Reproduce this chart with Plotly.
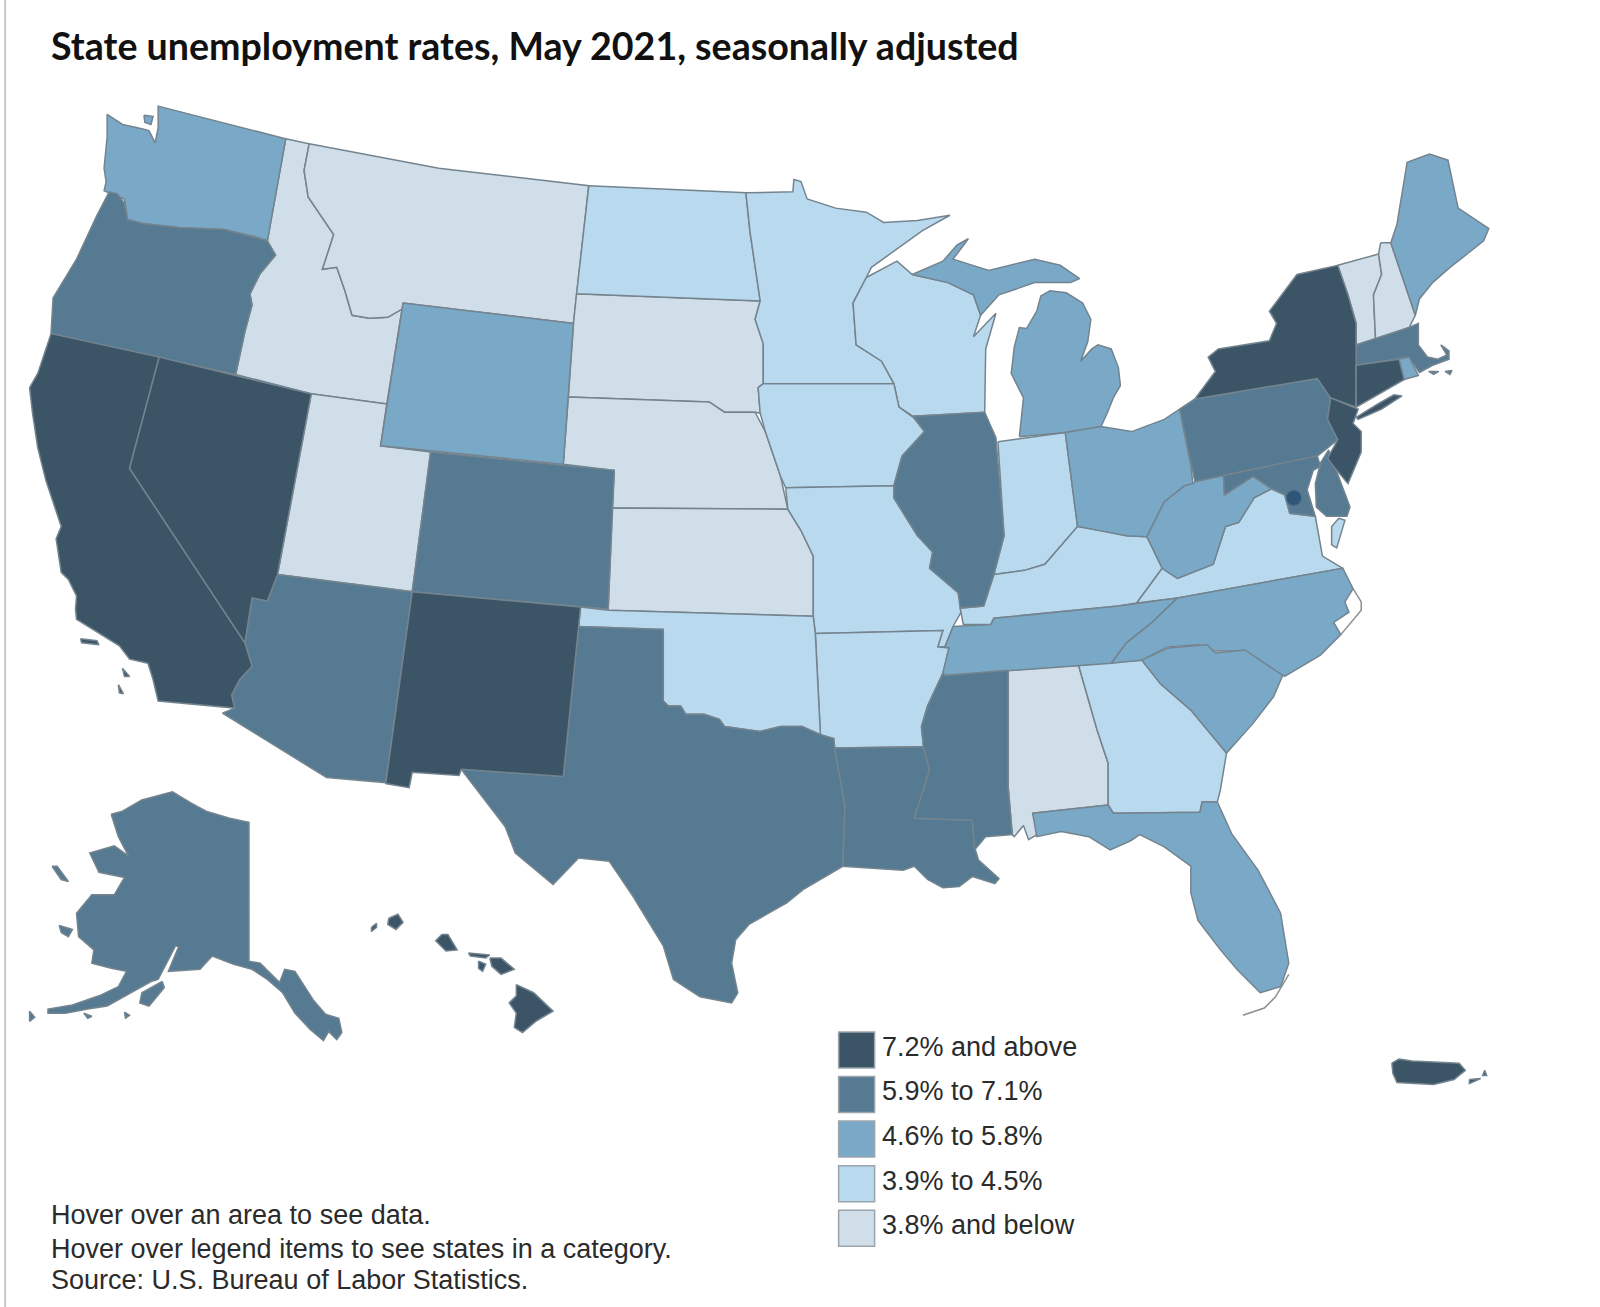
import plotly.graph_objects as go

# state outlines, in picture units (1568 wide, 1281 tall)
WA = [[(105,112),(120,122),(138,126),(146,128),(152,140),(155,125),(155,104),(280,136),(262,236),(250,232),(220,225),(175,223),(140,219),(125,215),(122,195),(102,187),(104,178),(102,165),(105,134)],
      [(141,113),(150,114),(148,122),(142,120)]]
OR = [[(107,188),(115,190),(122,199),(125,215),(140,219),(175,223),(220,225),(262,236),(270,250),(255,268),(245,288),(247,299),(240,325),(231,367),(50,327),(52,292),(75,254),(95,211)]]
CA = [[(50,327),(156,350),(127,459),(240,630),(247,653),(235,666),(227,681),(230,694),(155,687),(150,666),(145,650),(127,646),(117,633),(75,607),(74,597),(75,584),(67,568),(60,561),(55,528),(60,516),(45,471),(37,439),(32,406),(29,380),(37,366)],
      [(79,626),(95,628),(97,632),(80,630)],[(120,655),(127,663),(122,663)],[(116,671),(121,680),(117,679)]]
NV = [[(156,350),(305,386),(272,563),(262,589),(247,586),(240,630),(127,459)]]
ID = [[(280,136),(303,141),(298,167),(302,193),(327,230),(316,264),(330,262),(338,285),(345,309),(362,312),(380,311),(394,303),(379,396),(305,386),(231,367),(240,325),(247,299),(245,288),(255,268),(270,250),(262,236)]]
MT = [[(303,141),(430,165),(577,182),(565,288),(562,317),(395,297),(394,303),(380,311),(362,312),(345,309),(338,285),(330,262),(316,264),(327,230),(302,193),(298,167)]]
WY = [[(395,297),(562,317),(552,455),(373,437)]]
UT = [[(379,396),(373,437),(422,443),(404,580),(272,563),(305,386)]]
CO = [[(422,443),(602,461),(596,597),(404,580)]]
AZ = [[(272,563),(404,580),(378,767),(320,762),(218,699),(230,694),(227,681),(235,666),(247,653),(240,630),(247,586),(262,589)]]
NM = [[(404,580),(569,595),(552,761),(452,754),(450,760),(404,757),(401,772),(378,768)]]
TX = [[(567,614),(650,617),(650,687),(655,692),(667,692),(672,700),(690,700),(705,705),(710,712),(730,715),(745,717),(765,712),(786,712),(804,720),(817,724),(818,733),(828,790),(826,849),(787,872),(771,885),(734,906),(721,921),(717,944),(723,973),(717,983),(686,977),(660,960),(650,927),(620,878),(597,844),(567,841),(542,867),(505,836),(495,810),(452,754),(552,761)]]
OK = [[(569,595),(596,598),(797,604),(799,621),(804,720),(786,712),(765,712),(745,717),(730,715),(710,712),(705,705),(690,700),(672,700),(667,692),(655,692),(650,687),(650,617),(567,614)]]
KS = [[(600,498),(772,499),(785,520),(797,545),(797,604),(596,598)]]
NE = [[(557,389),(695,394),(710,404),(740,404),(750,423),(765,467),(772,499),(600,498),(602,461),(552,455)]]
SD = [[(565,288),(745,295),(740,313),(748,337),(748,376),(743,380),(745,405),(740,404),(710,404),(695,394),(557,389),(562,317)]]
ND = [[(577,182),(731,189),(735,227),(745,295),(565,288)]]
MN = [[(731,189),(777,188),(778,176),(785,178),(791,195),(819,204),(849,208),(866,218),(899,216),(931,211),(904,226),(854,262),(849,272),(836,297),(839,338),(864,354),(876,376),(748,376),(748,337),(740,313),(745,295),(735,227)]]
IA = [[(748,376),(876,376),(881,399),(895,409),(906,423),(884,447),(876,476),(770,478),(765,467),(750,423),(745,405),(743,380)]]
MO = [[(770,478),(876,476),(876,488),(899,525),(914,541),(911,557),(939,581),(943,598),(934,614),(926,634),(919,634),(924,618),(799,621),(797,604),(797,545),(785,520),(772,499)]]
AR = [[(799,621),(924,618),(919,634),(930,635),(924,660),(909,692),(903,712),(905,732),(818,733),(817,724),(804,720)]]
LA = [[(818,733),(905,732),(911,755),(896,802),(953,804),(955,830),(959,843),(979,861),(975,866),(953,859),(940,869),(924,870),(909,862),(896,849),(885,853),(852,851),(826,849),(828,790)]]
MS = [[(924,660),(926,662),(988,657),(988,771),(992,818),(966,820),(955,833),(953,804),(896,802),(911,755),(905,732),(903,712),(909,692)]]
AL = [[(988,657),(1057,652),(1075,715),(1086,748),(1086,789),(1012,797),(1018,817),(1008,823),(1003,809),(994,820),(992,818),(988,771)]]
GA = [[(1057,652),(1119,647),(1137,670),(1167,696),(1202,738),(1196,774),(1193,786),(1178,786),(1176,796),(1091,797),(1086,789),(1086,748),(1075,715)]]
FL = [[(1012,797),(1086,789),(1091,797),(1176,796),(1178,786),(1193,786),(1207,817),(1233,853),(1255,895),(1263,944),(1255,967),(1235,973),(1213,951),(1196,931),(1174,902),(1167,875),(1167,849),(1141,830),(1117,818),(1108,824),(1088,833),(1067,820),(1040,815),(1016,820)]]
SC = [[(1119,647),(1145,635),(1183,632),(1191,640),(1220,637),(1257,662),(1248,683),(1228,709),(1202,738),(1167,696),(1137,670)]]
NC = [[(1154,586),(1316,557),(1326,577),(1318,590),(1322,600),(1307,610),(1314,622),(1294,642),(1259,663),(1219,638),(1189,638),(1174,632),(1144,634),(1119,647),(1089,650),(1104,630),(1129,610)]]
TN = [[(934,614),(971,612),(974,606),(1096,594),(1154,586),(1129,610),(1104,630),(1089,650),(926,662),(924,660),(930,635),(926,634)]]
KY = [[(974,563),(1004,559),(1024,553),(1056,516),(1079,520),(1104,525),(1124,526),(1139,557),(1114,591),(1096,594),(974,606),(971,612),(944,612),(941,596),(964,594)]]
IL = [[(895,408),(965,404),(976,429),(984,525),(974,563),(964,594),(941,596),(939,581),(911,557),(914,541),(899,525),(876,488),(876,476),(884,447),(906,423)]]
IN = [[(978,433),(1044,424),(1056,516),(1024,553),(1004,559),(974,563),(984,525)]]
OH = [[(1044,424),(1079,418),(1109,423),(1141,411),(1156,401),(1167,456),(1169,474),(1161,476),(1141,492),(1124,526),(1104,525),(1079,520),(1056,516)]]
MI = [[(999,428),(1044,424),(1079,418),(1085,405),(1091,390),(1098,378),(1096,360),(1089,342),(1076,338),(1070,342),(1059,354),(1066,335),(1069,313),(1061,297),(1045,287),(1029,285),(1020,290),(1016,305),(1006,322),(999,321),(994,340),(991,366),(1003,390)],
      [(894,269),(924,256),(938,240),(949,234),(934,254),(969,265),(1014,254),(1039,260),(1058,273),(1049,277),(1014,277),(979,289),(961,309),(954,289),(929,277)]]
WI = [[(849,272),(879,256),(894,269),(929,277),(954,289),(961,309),(954,330),(976,307),(966,342),(965,404),(895,408),(881,399),(876,376),(864,354),(839,338),(836,297)]]
WV = [[(1169,474),(1171,472),(1199,466),(1200,485),(1228,467),(1246,479),(1229,488),(1214,512),(1201,516),(1189,553),(1154,567),(1139,557),(1124,526),(1141,492),(1161,476)]]
VA = [[(1114,591),(1139,557),(1154,567),(1189,553),(1201,516),(1214,512),(1229,488),(1246,479),(1259,485),(1264,503),(1289,506),(1296,545),(1316,557),(1154,586)],
      [(1312,508),(1318,510),(1310,537),(1305,534),(1305,516)]]
PA = [[(1156,401),(1171,391),(1291,371),(1304,390),(1301,411),(1311,431),(1291,447),(1171,472)]]
NY = [[(1171,391),(1191,364),(1184,350),(1194,342),(1244,334),(1251,317),(1244,305),(1271,269),(1311,260),(1321,289),(1329,317),(1329,382),(1329,399),(1304,390),(1291,371)],
      [(1329,409),(1350,396),(1366,387),(1374,388),(1354,401),(1331,411)]]
NJ = [[(1304,390),(1331,401),(1326,415),(1334,423),(1334,443),(1321,474),(1306,456),(1301,449),(1311,431),(1301,411)]]
CT = [[(1329,358),(1371,352),(1376,372),(1336,395),(1329,399)]]
RI = [[(1371,352),(1381,350),(1390,368),(1376,372)]]
MA = [[(1329,338),(1381,321),(1390,317),(1390,338),(1399,350),(1409,352),(1418,348),(1412,338),(1420,344),(1420,352),(1404,358),(1391,365),(1381,350),(1329,358)],
      [(1400,364),(1410,364),(1405,367)],[(1416,364),(1423,363),(1421,367)]]
VT = [[(1311,260),(1351,249),(1354,269),(1346,289),(1348,332),(1329,338),(1329,317),(1321,289)]]
NH = [[(1353,238),(1363,238),(1387,309),(1381,321),(1348,332),(1346,289),(1354,269),(1351,249)]]
ME = [[(1363,238),(1369,220),(1379,159),(1401,151),(1419,157),(1429,204),(1459,224),(1454,236),(1439,248),(1429,256),(1421,262),(1404,277),(1391,293),(1387,309)]]
MD = [[(1199,466),(1291,447),(1294,457),(1287,461),(1281,480),(1289,506),(1264,503),(1259,485),(1246,479),(1228,467),(1200,485)],
      [(1294,454),(1302,441),(1323,497),(1320,506),(1300,506),(1290,497),(1289,474)]]
HI = [[(506,965),(523,973),(542,991),(525,1001),(512,1012),(504,1007),(506,993),(499,983),(506,976)],
      [(480,939),(491,939),(504,950),(491,955),(482,947)],[(459,934),(480,936),(476,939),(461,937)],
      [(469,942),(476,945),(473,952),(469,949)],[(433,916),(439,916),(448,931),(437,932),(427,922)],
      [(381,900),(390,896),(395,904),(388,911),(380,906)],[(364,909),(369,905),(369,909),(364,913)]]
AK = [[(109,798),(120,795),(139,784),(169,776),(187,787),(202,795),(225,802),(244,806),(244,942),(255,944),(274,963),(279,950),(289,952),(307,980),(319,994),(332,998),(335,1012),(330,1019),(322,1011),(317,1020),(304,1009),(289,993),(277,973),(262,960),(247,950),(229,945),(208,937),(196,950),(165,952),(175,928),(172,927),(155,960),(148,962),(124,975),(105,986),(86,989),(64,993),(47,993),(47,989),(71,985),(97,976),(116,967),(124,952),(109,949),(90,944),(92,931),(77,918),(75,895),(90,877),(112,877),(122,860),(97,855),(88,836),(112,829),(126,839),(116,820)],
      [(159,962),(161,968),(146,986),(137,983),(139,973)],[(51,849),(56,849),(67,864),(60,862)],
      [(58,907),(71,911),(67,918),(60,914)],[(82,993),(90,996),(86,998)],[(122,992),(127,995),(123,998)],[(29,991),(34,997),(29,1001)]]
PR = [[(1364,1042),(1371,1038),(1384,1040),(1430,1042),(1436,1049),(1425,1058),(1405,1063),(1369,1061),(1365,1052)],
      [(1440,1058),(1451,1057),(1440,1062)],[(1455,1049),(1457,1054),(1453,1054)]]
FL_KEYS = [(1263,955),(1250,977),(1239,988),(1218,995)]
NC_BANKS = [(1326,577),(1334,590),(1334,598),(1322,612),(1314,622)]
DC = (1268,488)

bin_labels = ["7.2% and above", "5.9% to 7.1%", "4.6% to 5.8%", "3.9% to 4.5%", "3.8% and below"]
bin_colors = ["#3b5567", "#567a91", "#7aa9c8", "#b9d9ee", "#d0dee9"]
bin_states = [
    {"CA": CA, "NV": NV, "NM": NM, "NY": NY, "NJ": NJ, "CT": CT, "HI": HI, "PR": PR},
    {"OR": OR, "CO": CO, "AZ": AZ, "TX": TX, "LA": LA, "MS": MS, "IL": IL, "PA": PA, "MD": MD, "MA": MA, "AK": AK},
    {"WA": WA, "WY": WY, "MI": MI, "OH": OH, "WV": WV, "TN": TN, "NC": NC, "SC": SC, "FL": FL, "ME": ME, "RI": RI},
    {"ND": ND, "MN": MN, "WI": WI, "IA": IA, "MO": MO, "AR": AR, "OK": OK, "GA": GA, "IN": IN, "KY": KY, "VA": VA},
    {"ID": ID, "MT": MT, "UT": UT, "SD": SD, "NE": NE, "KS": KS, "AL": AL, "VT": VT, "NH": NH},
]
notes = ["Hover over an area to see data.",
         "Hover over legend items to see states in a category.",
         "Source: U.S. Bureau of Labor Statistics."]
note_y = [1191, 1224, 1255]
title = "State unemployment rates, May 2021, seasonally adjusted"

BORDER = "#74848f"
fig = go.Figure()


def flat(parts):
    xs, ys = [], []
    for part in parts:
        xs += [p[0] for p in part] + [part[0][0], None]
        ys += [p[1] for p in part] + [part[0][1], None]
    return xs, ys


# palest first so darker states sit on top, as on the page
for color, states in reversed(list(zip(bin_colors, bin_states))):
    for name, parts in states.items():
        xs, ys = flat(parts)
        fig.add_trace(go.Scatter(x=xs, y=ys, mode="lines", fill="toself", fillcolor=color,
                                 line=dict(color=BORDER, width=1.5), name=name, hoverinfo="name"))

for line in (FL_KEYS, NC_BANKS):
    fig.add_trace(go.Scatter(x=[p[0] for p in line], y=[p[1] for p in line], mode="lines",
                             line=dict(color="#8a8f94", width=1.5), hoverinfo="skip"))

fig.add_trace(go.Scatter(x=[DC[0]], y=[DC[1]], mode="markers", name="DC", hoverinfo="name",
                         marker=dict(size=15, color="#2f5578", line=dict(color="#466a85", width=1))))

# legend squares and labels
for i, (label, color) in enumerate(zip(bin_labels, bin_colors)):
    y = 1029 + i * 43.7
    fig.add_trace(go.Scatter(x=[839.5], y=[y], mode="markers", hoverinfo="skip",
                             marker=dict(symbol="square", size=36, color=color, line=dict(color="#9aa5ad", width=1.5))))
    fig.add_annotation(x=862, y=y - 3, text=label, showarrow=False, xanchor="left", yanchor="middle",
                       font=dict(family="Liberation Sans", size=27, color="#2b2b2b"))

for text, y in zip(notes, note_y):
    fig.add_annotation(x=48, y=y, text=text, showarrow=False, xanchor="left", yanchor="middle",
                       font=dict(family="Liberation Sans", size=27, color="#2b2b2b"))

fig.add_annotation(x=48, y=45, text="<b>" + title + "</b>", showarrow=False, xanchor="left", yanchor="middle",
                   font=dict(family="Lato", size=37.6, color="#111111"))

fig.add_shape(type="line", x0=5, x1=5, y0=0, y1=1281, line=dict(color="#b8b8b8", width=1.5))

fig.update_xaxes(range=[0, 1568], visible=False, fixedrange=True)
fig.update_yaxes(range=[1281, 0], visible=False, fixedrange=True)
fig.update_layout(width=1600, height=1307, margin=dict(l=0, r=0, t=0, b=0), showlegend=False,
                  paper_bgcolor="white", plot_bgcolor="white")
fig.write_html("out.html", post_script="document.body.style.margin='0';", config=dict(displayModeBar=False))
